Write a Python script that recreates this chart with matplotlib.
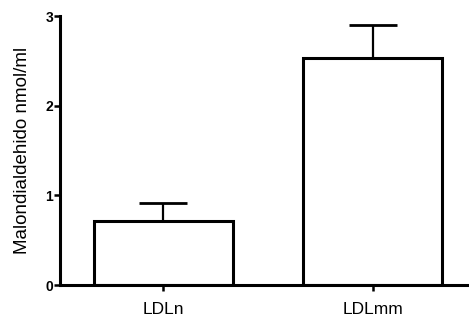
import matplotlib
matplotlib.use("Agg")
import matplotlib.pyplot as plt

categories = ["LDLn", "LDLmm"]
means = [0.71, 2.53]
errors = [0.20, 0.37]

plt.rcParams['font.family'] = ['Liberation Sans', 'DejaVu Sans']

fig = plt.figure(figsize=(4.69, 3.2), dpi=100)
ax = fig.add_axes([0.128, 0.109, 0.872, 0.841])

x = list(range(len(categories)))
ax.bar(x, means, width=0.664, color='white', edgecolor='black', linewidth=2.2, zorder=2)
ax.errorbar(x, means, yerr=[[0]*len(errors), errors], fmt='none', ecolor='black',
            elinewidth=1.6, capsize=17.5, capthick=2.0, zorder=1)

ax.set_xlim(-0.494, 1.46)
ax.set_ylim(0, 3)
ax.set_xticks(x)
ax.set_xticklabels(categories, fontsize=12.5)
ax.set_yticks([0, 1, 2, 3])
ax.set_yticklabels(['0', '1', '2', '3'], fontsize=10, fontweight='bold')
ax.set_ylabel('Malondialdehido nmol/ml', fontsize=13.5, labelpad=10)

for s in ['top', 'right']:
    ax.spines[s].set_visible(False)
for s in ['left', 'bottom']:
    ax.spines[s].set_linewidth(2.2)
ax.tick_params(axis='y', length=4, width=1.8, pad=1)
ax.tick_params(axis='x', length=4, width=1.8, pad=8)

fig.savefig('out.png', dpi=100)
